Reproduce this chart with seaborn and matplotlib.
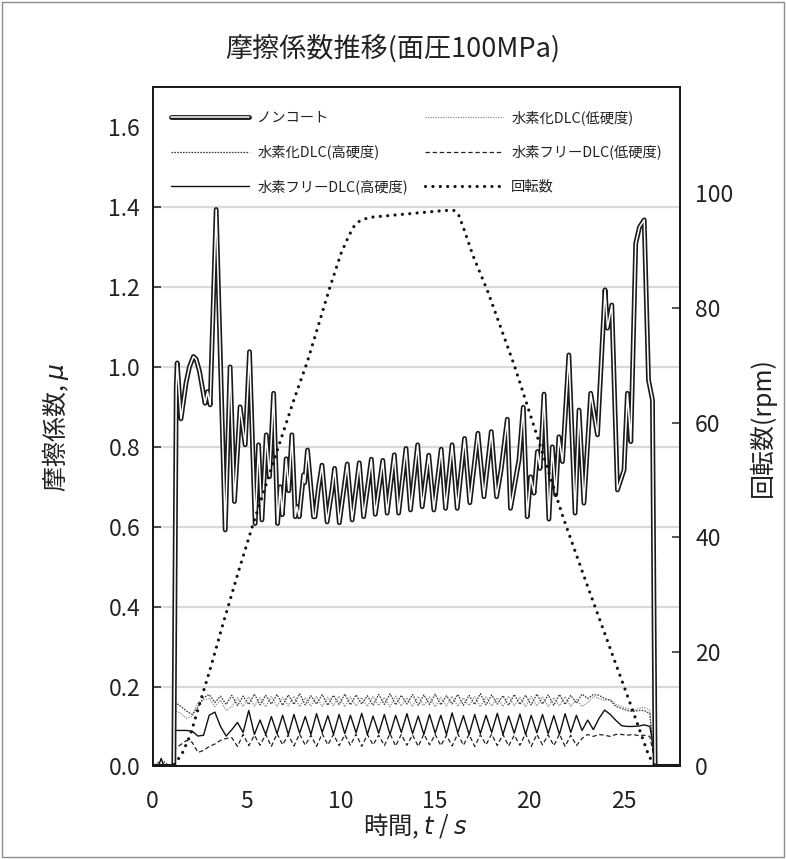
import matplotlib
matplotlib.use('Agg')
import matplotlib.pyplot as plt
import matplotlib.patheffects as pe
from matplotlib.patches import Rectangle
import seaborn as sns

sns.set_theme(style='white')
plt.rcParams['font.family'] = ['Noto Sans CJK JP', 'DejaVu Sans']
plt.rcParams['mathtext.fontset'] = 'dejavusans'
plt.rcParams['axes.unicode_minus'] = False

# ノンコート (friction coefficient)
t_nc = [0.0, 1.05, 1.12, 1.25, 1.3, 1.5, 1.77, 1.95, 2.16, 2.3, 2.48, 2.78, 2.91, 3.05, 3.37,
        3.85, 4.11, 4.34, 4.64, 4.91, 5.14, 5.44, 5.62, 5.80, 6.03, 6.2, 6.42, 6.63, 6.77,
        6.88, 7.09, 7.22, 7.39, 7.57, 7.66, 7.78, 8.01, 8.07, 8.22, 8.54, 8.62, 8.81, 8.99,
        9.26, 9.52, 9.66, 9.91, 10.33, 10.59, 10.97, 11.2, 11.61, 11.82, 12.22, 12.45, 12.83,
        13.06, 13.45, 13.69, 14.07, 14.31, 14.66, 14.93, 15.32, 15.55, 15.90, 16.17, 16.56,
        16.84, 17.27, 17.59, 17.98, 18.26, 18.5, 18.83, 19.0, 19.45, 19.68, 19.89, 20.07,
        20.25, 20.43, 20.57, 20.78, 21.04, 21.22, 21.4, 21.57, 21.76, 22.1, 22.43, 22.64,
        22.9, 23.26, 23.62, 24.02, 24.15, 24.38, 24.68, 25.03, 25.21, 25.39, 25.65, 25.85,
        26.1, 26.33, 26.54, 26.68, 28.0]
mu_nc = [0.0, 0.0, 0.0, 0.95, 1.01, 0.87, 0.96, 1.0, 1.026, 1.02, 0.99, 0.909, 0.938, 0.905, 1.394,
         0.592, 1.0, 0.663, 0.9, 0.805, 1.038, 0.608, 0.805, 0.617, 0.83, 0.725, 0.934, 0.608, 0.70,
         0.63, 0.77, 0.69, 0.83, 0.625, 0.65, 0.625, 0.73, 0.71, 0.792, 0.625, 0.625, 0.70, 0.754,
         0.612, 0.692, 0.746, 0.61, 0.757, 0.617, 0.760, 0.625, 0.769, 0.631, 0.766, 0.634, 0.780,
         0.634, 0.796, 0.642, 0.805, 0.65, 0.779, 0.642, 0.794, 0.646, 0.805, 0.646, 0.821,
         0.66, 0.834, 0.675, 0.838, 0.675, 0.742, 0.869, 0.646, 0.767, 0.899, 0.625, 0.725,
         0.684, 0.788, 0.746, 0.932, 0.619, 0.80, 0.68, 0.825, 0.763, 1.03, 0.634, 0.892,
         0.659, 0.934, 0.83, 1.193, 1.097, 1.155, 0.692, 0.742, 0.934, 0.813, 1.309, 1.35,
         1.368, 0.967, 0.917, 0.0, 0.0]

# DLC coatings, sampled on a common time axis
t_dlc = [0.0, 0.3, 0.45, 0.6, 0.9, 1.1,
         1.2, 1.5, 1.8, 2.1, 2.4, 2.7, 3.0, 3.3, 3.6, 3.9,
         4.2, 4.5, 4.8, 5.1, 5.4, 5.7, 6.0, 6.3, 6.6, 6.9,
         7.2, 7.5, 7.8, 8.1, 8.4, 8.7, 9.0, 9.3, 9.6, 9.9,
         10.2, 10.5, 10.8, 11.1, 11.4, 11.7, 12.0, 12.3, 12.6, 12.9,
         13.2, 13.5, 13.8, 14.1, 14.4, 14.7, 15.0, 15.3, 15.6, 15.9,
         16.2, 16.5, 16.8, 17.1, 17.4, 17.7, 18.0, 18.3, 18.6, 18.9,
         19.2, 19.5, 19.8, 20.1, 20.4, 20.7, 21.0, 21.3, 21.6, 21.9,
         22.2, 22.5, 22.8, 23.1, 23.4, 23.7, 24.0, 24.3, 24.6, 24.9,
         25.2, 25.5, 25.8, 26.1, 26.4,
         26.55, 26.7, 28.0]

mu_h_low = [0, 0, 0, 0, 0, 0,
            0.140, 0.132, 0.120, 0.126, 0.160, 0.166, 0.170, 0.150, 0.166, 0.140,
            0.150, 0.172, 0.150, 0.174, 0.151, 0.172, 0.149, 0.175, 0.150, 0.173,
            0.152, 0.176, 0.149, 0.172, 0.151, 0.175, 0.150, 0.173, 0.152, 0.176,
            0.149, 0.174, 0.151, 0.172, 0.150, 0.175, 0.152, 0.173, 0.149, 0.176,
            0.151, 0.172, 0.150, 0.175, 0.152, 0.174, 0.149, 0.173, 0.151, 0.176,
            0.150, 0.172, 0.152, 0.175, 0.149, 0.174, 0.151, 0.172, 0.150, 0.176,
            0.152, 0.173, 0.149, 0.175, 0.151, 0.174, 0.150, 0.172, 0.152, 0.175,
            0.150, 0.168, 0.150, 0.160, 0.175, 0.170, 0.165, 0.168, 0.155, 0.150,
            0.145, 0.140, 0.145, 0.148, 0.140,
            0.04, 0, 0]

mu_h_high = [0, 0.01, 0, 0.012, 0, 0,
             0.160, 0.150, 0.138, 0.130, 0.148, 0.172, 0.180, 0.160, 0.176, 0.155,
             0.178, 0.152, 0.176, 0.155, 0.181, 0.154, 0.178, 0.156, 0.180, 0.153,
             0.179, 0.155, 0.182, 0.154, 0.177, 0.156, 0.180, 0.153, 0.178, 0.155,
             0.181, 0.154, 0.179, 0.156, 0.177, 0.153, 0.180, 0.155, 0.182, 0.154,
             0.178, 0.156, 0.180, 0.153, 0.179, 0.155, 0.181, 0.154, 0.177, 0.156,
             0.180, 0.153, 0.178, 0.155, 0.182, 0.154, 0.179, 0.156, 0.177, 0.153,
             0.180, 0.155, 0.178, 0.154, 0.181, 0.156, 0.179, 0.153, 0.180, 0.155,
             0.178, 0.158, 0.181, 0.170, 0.180, 0.178, 0.170, 0.165, 0.150, 0.145,
             0.140, 0.137, 0.140, 0.140, 0.132,
             0.05, 0, 0]

mu_f_low = [0, 0, 0, 0, 0, 0,
            0.045, 0.055, 0.065, 0.060, 0.035, 0.040, 0.050, 0.056, 0.065, 0.070,
            0.072, 0.050, 0.080, 0.052, 0.078, 0.053, 0.080, 0.050, 0.082, 0.054,
            0.079, 0.051, 0.081, 0.053, 0.078, 0.050, 0.082, 0.054, 0.080, 0.052,
            0.079, 0.053, 0.081, 0.050, 0.080, 0.054, 0.078, 0.052, 0.082, 0.051,
            0.080, 0.053, 0.079, 0.050, 0.081, 0.054, 0.080, 0.052, 0.078, 0.051,
            0.082, 0.053, 0.080, 0.050, 0.079, 0.054, 0.081, 0.052, 0.080, 0.051,
            0.078, 0.053, 0.082, 0.050, 0.080, 0.054, 0.079, 0.052, 0.081, 0.050,
            0.078, 0.052, 0.070, 0.080, 0.075, 0.080, 0.078, 0.075, 0.080, 0.080,
            0.078, 0.080, 0.077, 0.078, 0.075,
            0.04, 0, 0]

mu_f_high = [0, 0, 0.02, 0, 0, 0,
             0.090, 0.090, 0.090, 0.088, 0.076, 0.078, 0.128, 0.136, 0.100, 0.076,
             0.092, 0.110, 0.085, 0.140, 0.080, 0.116, 0.080, 0.125, 0.082, 0.128,
             0.080, 0.130, 0.083, 0.125, 0.080, 0.132, 0.085, 0.127, 0.080, 0.130,
             0.082, 0.128, 0.084, 0.133, 0.080, 0.126, 0.083, 0.130, 0.080, 0.128,
             0.085, 0.132, 0.082, 0.126, 0.080, 0.130, 0.083, 0.128, 0.080, 0.134,
             0.084, 0.127, 0.080, 0.130, 0.082, 0.128, 0.085, 0.133, 0.080, 0.126,
             0.083, 0.131, 0.080, 0.128, 0.084, 0.130, 0.082, 0.127, 0.080, 0.132,
             0.085, 0.128, 0.090, 0.116, 0.092, 0.120, 0.141, 0.130, 0.115, 0.102,
             0.100, 0.100, 0.101, 0.104, 0.100,
             0.06, 0, 0]

# 回転数 (rpm, right axis)
t_rpm = [0.0, 1.0, 1.2, 1.6, 2.0, 2.5, 3.1, 3.7, 4.6, 5.35, 6.5, 7.5, 8.2, 9.4, 10.0, 10.4,
         10.7, 11.0, 11.5, 12.5, 13.5, 14.5, 15.5, 16.0, 16.25, 16.5, 17.0, 17.8, 19.2, 20.4,
         21.8, 22.9, 24.6, 25.3, 25.8, 26.35, 26.7, 28.0]
rpm = [0, 0, 0.5, 2.5, 5.5, 11, 17.5, 24.5, 34.5, 42.5, 54, 64, 70.5, 83.5, 89.5, 92.5,
       94.3, 95.2, 95.8, 96.1, 96.4, 96.7, 97.0, 97.0, 96.2, 94, 89.2, 82.8, 70, 57.8,
       43.4, 33.2, 17.8, 11.5, 6.9, 1.8, 0, 0]

labels = ['ノンコート', '水素化DLC(低硬度)', '水素化DLC(高硬度)',
          '水素フリーDLC(低硬度)', '水素フリーDLC(高硬度)', '回転数']

fig = plt.figure(figsize=(7.86, 8.59), dpi=100)
fig.patches.append(Rectangle((0.002, 0.002), 0.996, 0.996, transform=fig.transFigure,
                             fill=False, edgecolor='#8c8c8c', linewidth=1.0))
ax = fig.add_axes([0.1943, 0.1078, 0.6708, 0.7906])
ax.set_facecolor('white')

common = dict(ax=ax, estimator=None, sort=False)
l_hl = sns.lineplot(x=t_dlc, y=mu_h_low, color='#8a8a8a', lw=0.9,
                    linestyle=(0, (1, 1)), **common).lines[-1]
l_hh = sns.lineplot(x=t_dlc, y=mu_h_high, color='#3a3a3a', lw=0.9,
                    linestyle=(0, (1.3, 1)), **common).lines[-1]
l_fl = sns.lineplot(x=t_dlc, y=mu_f_low, color='#222222', lw=0.9,
                    linestyle=(0, (3.5, 2.2)), **common).lines[-1]
l_fh = sns.lineplot(x=t_dlc, y=mu_f_high, color='#111111', lw=1.0, **common).lines[-1]
l_nc = sns.lineplot(x=t_nc, y=mu_nc, color='white', lw=1.1,
                    path_effects=[pe.Stroke(linewidth=3.5, foreground='#1a1a1a'), pe.Normal()],
                    **common).lines[-1]
for ln in ax.lines:
    ln.set_solid_joinstyle('round')

ax.set_xlim(0, 28)
ax.set_ylim(0, 1.7)
ax.set_xticks([0, 5, 10, 15, 20, 25])
ax.set_yticks([0.0, 0.2, 0.4, 0.6, 0.8, 1.0, 1.2, 1.4, 1.6])
ax.set_yticklabels(['0.0', '0.2', '0.4', '0.6', '0.8', '1.0', '1.2', '1.4', '1.6'])
ax.yaxis.grid(True, color='#d9d9d9', lw=1.6)
ax.xaxis.grid(False)
ax.set_axisbelow(True)
ax.tick_params(axis='both', direction='in', length=6, width=1.1, color='#222222',
               labelsize=16.5, labelcolor='#222222')
ax.tick_params(axis='y', pad=9)
ax.tick_params(axis='x', pad=17)
ax.set_xlabel('')
ax.set_ylabel('')

ax2 = ax.twinx()
sns.lineplot(x=t_rpm, y=rpm, ax=ax2, color='#111111', lw=2.3, estimator=None, sort=False,
             linestyle=(0, (0.01, 2.3)), dash_capstyle='round')
l_rpm = ax2.lines[-1]
ax2.set_ylim(0, 118.5)
ax2.set_yticks([0, 20, 40, 60, 80, 100])
ax2.set_ylabel('')
ax2.grid(False)
ax2.tick_params(axis='y', direction='in', length=6, width=1.1, color='#222222',
                labelsize=16.5, labelcolor='#222222', pad=11)
for a in (ax, ax2):
    for sp in a.spines.values():
        sp.set_color('#1a1a1a')
        sp.set_linewidth(1.4)
        sp.set_zorder(6)
        sp.set_visible(True)

for a in (ax, ax2):
    if a.get_legend() is not None:
        a.get_legend().remove()

# white band behind the legend, ending just above the 1.4 grid line
ax2.add_patch(Rectangle((0, 1.41 / 1.7), 1, 1 - 1.41 / 1.7, transform=ax2.transAxes,
                        facecolor='white', edgecolor='none', zorder=4.5))

handles = [l_nc, l_hh, l_fh, l_hl, l_fl, l_rpm]
names = [labels[0], labels[2], labels[4], labels[1], labels[3], labels[5]]
leg = ax2.legend(handles, names, loc='upper left', bbox_to_anchor=(0, 0.993, 1, 0),
                 mode='expand', ncol=2, borderaxespad=0, frameon=False,
                 fontsize=10.3, handlelength=5.5, handletextpad=0.55,
                 labelspacing=1.4, borderpad=1.25)
leg.set_zorder(5)
for text in leg.get_texts():
    text.set_color('#222222')

fig.text(0.5, 0.943, '摩擦係数推移(面圧100MPa)', ha='center', va='center',
         fontsize=19.5, color='#222222')
fig.text(0.529, 1 - 826 / 859, '時間, $t$ / $s$', ha='center', va='center',
         fontsize=17.5, color='#222222')
fig.text(0.07, 1 - 427 / 859, '摩擦係数, $\\mu$', ha='center', va='center',
         rotation=90, fontsize=18, color='#222222')
fig.text(0.9695, 1 - 427 / 859, '回転数(rpm)', ha='center', va='center',
         rotation=90, fontsize=18, color='#222222')

fig.savefig('out.png', dpi=100)
